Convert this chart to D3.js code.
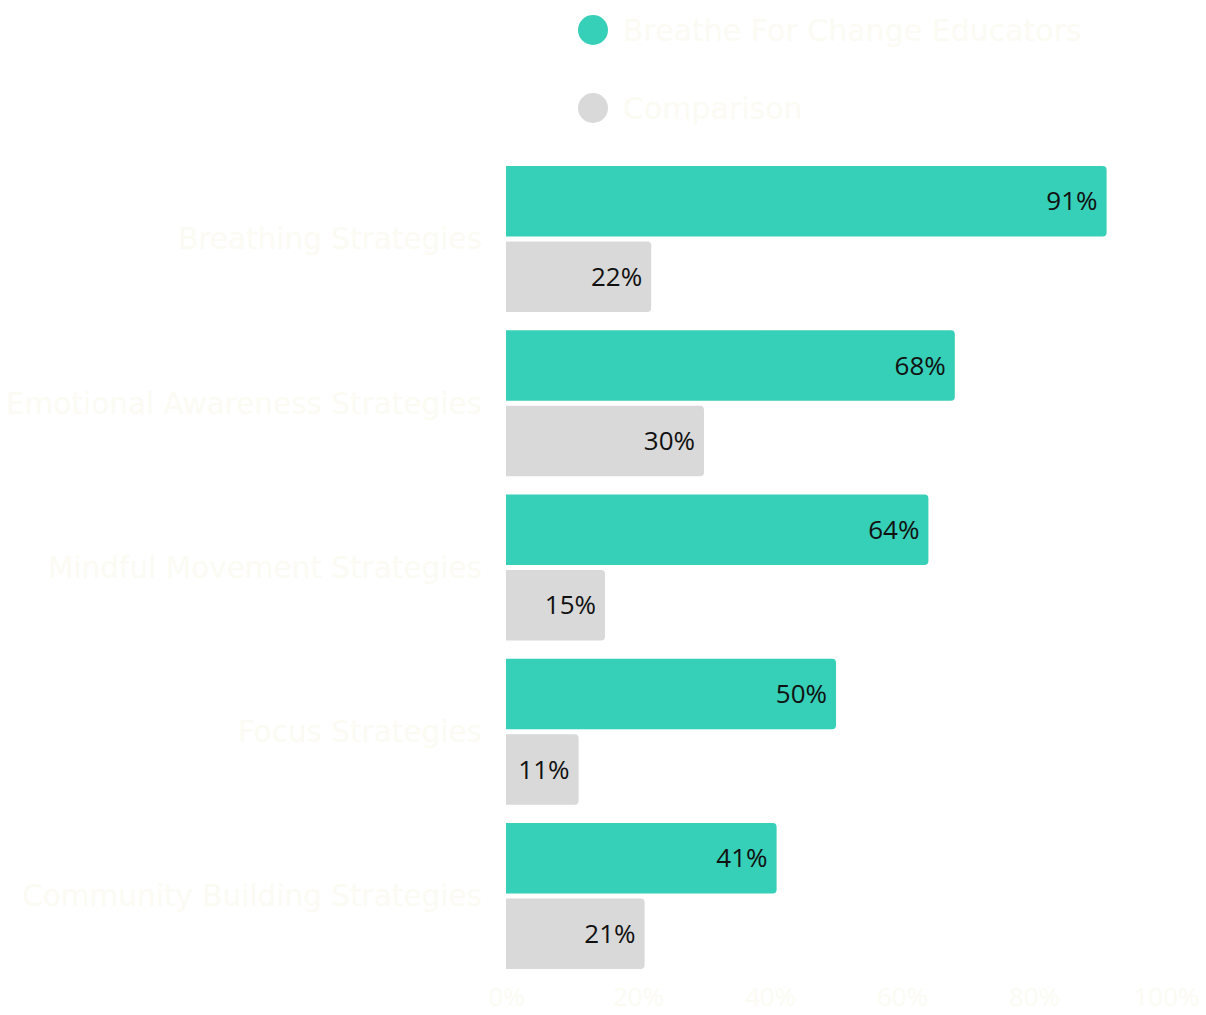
<!DOCTYPE html>
<html>
<head>
<meta charset="utf-8">
<script src="https://cdn.jsdelivr.net/npm/d3@7"></script>
<style>
  html, body { margin: 0; padding: 0; background: #ffffff; }
  svg { display: block; }
</style>
</head>
<body>
<svg id="chart" width="1206" height="1015"></svg>
<script>
const categories = [
  "Breathing Strategies",
  "Emotional Awareness Strategies",
  "Mindful Movement Strategies",
  "Focus Strategies",
  "Community Building Strategies"
];
const seriesNames = ["Breathe For Change Educators", "Comparison"];
const seriesColors = ["#36cfb7", "#d9d9d9"];
const b4cValues = [91, 68, 64, 50, 41];
const comparisonValues = [22, 30, 15, 11, 21];
const tickValues = [0, 20, 40, 60, 80, 100];

const seriesValues = [b4cValues, comparisonValues];
const rows = [];
categories.forEach((c, i) => {
  seriesNames.forEach((s, j) => rows.push({ cat: c, series: s, value: seriesValues[j][i], color: seriesColors[j] }));
});

const svg = d3.select("#chart");
const labelColor = "#fbfbf3";
const wideFont = "\"DejaVu Sans\", sans-serif";
const baseFont = "\"Open Sans\", \"DejaVu Sans\", sans-serif";

const x = d3.scaleLinear().domain([0, 100]).range([506, 1166]);
const y0 = d3.scaleBand().domain(categories).range([166, 969]).paddingInner(0.111).paddingOuter(0);
const y1 = d3.scaleBand().domain(seriesNames).range([0, y0.bandwidth()]).paddingInner(0.066).paddingOuter(0);

function barPath(x0, y, w, h, r) {
  r = Math.min(r, w, h / 2);
  return `M${x0},${y}H${x0 + w - r}Q${x0 + w},${y} ${x0 + w},${y + r}V${y + h - r}Q${x0 + w},${y + h} ${x0 + w - r},${y + h}H${x0}Z`;
}

// bars
svg.append("g").selectAll("path")
  .data(rows)
  .join("path")
  .attr("d", d => barPath(x(0), y0(d.cat) + y1(d.series), x(d.value) - x(0), y1.bandwidth(), 4))
  .attr("fill", d => d.color);

// value labels
svg.append("g").selectAll("text")
  .data(rows)
  .join("text")
  .attr("x", d => x(d.value) - 9)
  .attr("y", d => y0(d.cat) + y1(d.series) + y1.bandwidth() / 2)
  .attr("dy", "0.35em")
  .attr("text-anchor", "end")
  .style("font-family", baseFont)
  .style("font-size", "26px")
  .attr("fill", "#111111")
  .text(d => d.value + "%");

// category axis labels
svg.append("g").selectAll("text")
  .data(categories)
  .join("text")
  .attr("x", 482)
  .attr("y", d => y0(d) + y0.bandwidth() / 2)
  .attr("dy", "0.35em")
  .attr("text-anchor", "end")
  .style("font-family", wideFont)
  .style("font-size", "29.5px")
  .attr("fill", labelColor)
  .text(d => d);

// x axis
const xAxis = d3.axisBottom(x).tickValues(tickValues).tickFormat(d => d + "%").tickSize(0).tickPadding(0);
const gx = svg.append("g").attr("transform", "translate(0,988)").call(xAxis);
gx.select(".domain").remove();
gx.selectAll("text")
  .style("font-family", baseFont)
  .style("font-size", "26px")
  .attr("fill", labelColor);

// legend
const legend = svg.append("g").selectAll("g")
  .data(seriesNames)
  .join("g")
  .attr("transform", (d, i) => `translate(593,${30 + i * 78})`);
legend.append("circle").attr("r", 15).attr("fill", (d, i) => seriesColors[i]);
legend.append("text")
  .attr("x", 30)
  .attr("dy", "0.35em")
  .style("font-family", wideFont)
  .style("font-size", "30px")
  .attr("fill", labelColor)
  .text(d => d);
</script>
</body>
</html>
